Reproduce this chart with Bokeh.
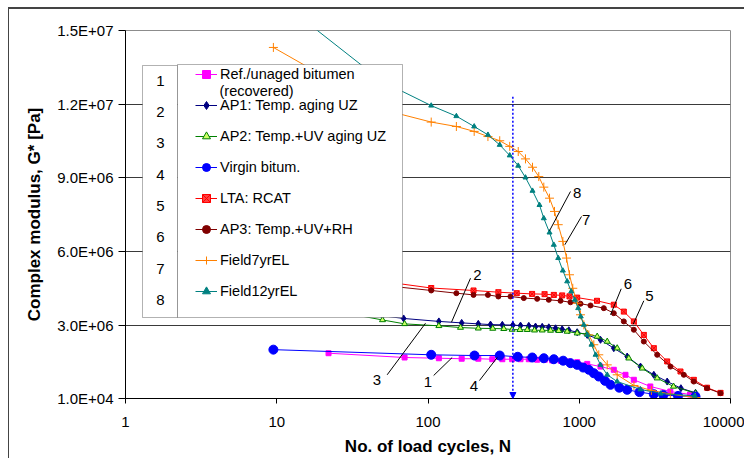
from bokeh.plotting import figure
from bokeh.models import (Range1d, FixedTicker, PrintfTickFormatter, Legend, LegendItem,
                          BoxAnnotation, Label, Arrow, NormalHead)
from bokeh.embed import file_html
from bokeh.resources import INLINE

FONT = "Liberation Sans"

# ---------------- data ----------------
ref_N = [22, 70, 118, 167, 215, 266, 310, 360, 409, 464, 527, 592, 662, 752, 853, 969, 1129,
         1382, 1692, 2022, 2296, 2950, 4000, 5400]
ref_G = [1.855e6, 1.68e6, 1.65e6, 1.63e6, 1.63e6, 1.61e6, 1.61e6, 1.61e6, 1.61e6, 1.61e6, 1.59e6,
         1.59e6, 1.56e6, 1.55e6, 1.52e6, 1.49e6, 1.42e6, 1.31e6, 1.18e6, 9.75e5, 7.72e5, 5.0e5,
         2.95e5, 1.73e5]

ap1_N = [10, 50, 69, 118, 167, 215, 259, 310, 364, 409, 464, 514, 569, 629, 697, 771, 853, 969,
         1129, 1382, 1692, 2075, 2541, 3112, 3814, 4700, 5870]
ap1_G = [4.1e6, 3.38e6, 3.27e6, 3.15e6, 3.09e6, 3.05e6, 3.02e6, 3.01e6, 3.0e6, 2.98e6, 2.97e6,
         2.94e6, 2.93e6, 2.91e6, 2.87e6, 2.83e6, 2.79e6, 2.71e6, 2.60e6, 2.40e6, 2.06e6, 1.72e6,
         1.31e6, 9.75e5, 7.0e5, 4.3e5, 2.4e5]

ap2_N = [10, 50, 70, 118, 164, 215, 268, 317, 360, 405, 453, 506, 569, 646, 732, 832, 969, 1129,
         1314, 1531, 1782, 2126, 2608, 3275, 4200, 5870]
ap2_G = [4.0e6, 3.21e6, 3.05e6, 2.97e6, 2.90e6, 2.87e6, 2.86e6, 2.85e6, 2.82e6, 2.81e6, 2.81e6,
         2.79e6, 2.79e6, 2.78e6, 2.77e6, 2.74e6, 2.67e6, 2.64e6, 2.535e6, 2.33e6, 2.06e6, 1.65e6,
         1.24e6, 8.37e5, 5.0e5, 2.26e5]

virgin_N = [9.5, 105, 203, 298, 392, 489, 583, 679, 783, 875, 969, 1062, 1157, 1248, 1346, 1480,
            1610, 1840, 2075, 2500, 3112, 3600, 4500, 5870]
virgin_G = [2.0e6, 1.79e6, 1.76e6, 1.76e6, 1.71e6, 1.68e6, 1.65e6, 1.61e6, 1.55e6, 1.45e6, 1.38e6,
            1.27e6, 1.18e6, 1.04e6, 9.06e5, 7.3e5, 5.68e5, 4.5e5, 3.64e5, 2.7e5, 1.85e5, 1.5e5,
            1.15e5, 9.1e4]

lta_N = [10, 50, 105, 200, 292, 386, 488, 590, 679, 771, 862, 969, 1310, 1692, 1971, 2296, 2673,
         3112, 3814, 4670, 5720, 7000, 8590]
lta_G = [5.0e6, 4.78e6, 4.51e6, 4.41e6, 4.34e6, 4.30e6, 4.27e6, 4.26e6, 4.23e6, 4.21e6, 4.17e6,
         4.12e6, 3.99e6, 3.83e6, 3.55e6, 3.15e6, 2.60e6, 2.06e6, 1.52e6, 1.11e6, 7.7e5, 4.5e5, 2.4e5]

ap3_N = [10, 50, 105, 154, 200, 249, 292, 351, 430, 527, 629, 752, 875, 1019, 1187, 1453, 1692,
         1971, 2296, 2673, 3275, 4011, 4912, 5720, 7000, 8590]
ap3_G = [4.85e6, 4.62e6, 4.41e6, 4.30e6, 4.23e6, 4.23e6, 4.165e6, 4.165e6, 4.10e6, 4.07e6, 4.03e6,
         3.99e6, 3.93e6, 3.87e6, 3.80e6, 3.69e6, 3.485e6, 3.15e6, 2.81e6, 2.33e6, 1.79e6, 1.31e6,
         9.75e5, 7.0e5, 4.3e5, 2.26e5]

f7_N = [9.5, 50, 105, 154, 202, 249, 298, 347, 395, 441, 491, 540, 583, 636, 686, 726, 779, 824,
        862, 906, 969, 1019, 1072, 1157, 1248, 1346, 1531, 1782, 2300, 3000, 4000, 5870]
f7_G = [1.431e7, 1.178e7, 1.127e7, 1.109e7, 1.089e7, 1.068e7, 1.051e7, 1.028e7, 1.007e7, 9.77e6,
        9.43e6, 9.05e6, 8.62e6, 8.17e6, 7.63e6, 7.09e6, 6.41e6, 5.73e6, 5.05e6, 4.50e6, 3.89e6,
        3.42e6, 3.01e6, 2.60e6, 2.20e6, 1.79e6, 1.38e6, 9.75e5, 5.4e5, 3.4e5, 1.9e5, 5e4]

f12_N = [10, 50, 105, 154, 202, 249, 298, 347, 395, 441, 491, 546, 583, 636, 679, 726, 779, 832,
         885, 935, 984, 1023, 1072, 1131, 1205, 1283, 1382, 1531, 1782, 2540, 3450, 5800]
f12_G = [1.63e7, 1.292e7, 1.194e7, 1.151e7, 1.109e7, 1.075e7, 1.034e7, 9.91e6, 9.49e6, 9.01e6,
         8.47e6, 7.89e6, 7.35e6, 6.77e6, 6.27e6, 5.73e6, 5.22e6, 4.78e6, 4.37e6, 4.03e6, 3.69e6,
         3.35e6, 3.01e6, 2.60e6, 2.20e6, 1.79e6, 1.38e6, 9.75e5, 7.0e5, 3.8e5, 2.1e5, 1.2e5]

series_names = ["Ref./unaged bitumen", "AP1: Temp. aging UZ", "AP2: Temp.+UV aging UZ",
                "Virgin bitum.", "LTA: RCAT", "AP3: Temp.+UV+RH", "Field7yrEL", "Field12yrEL"]
series_numbers = ["1", "2", "3", "4", "5", "6", "7", "8"]

x_ticks = [1, 10, 100, 1000, 10000]
y_ticks = [1e4, 3e6, 6e6, 9e6, 1.2e7, 1.5e7]
y_tick_labels = ["1.0E+04", "3.0E+06", "6.0E+06", "9.0E+06", "1.2E+07", "1.5E+07"]

# reference line (dotted arrow)
ref_cycles = 364
ref_top = 1.23e7

# curve number callouts: text position and leader line ends
callout_text = ["1", "2", "3", "4", "5", "6", "7", "8"]
callout_tx = [99.7, 212, 46, 201, 2913, 2094, 1112, 969]
callout_ty = [7.02e5, 5.06e6, 7.72e5, 4.99e5, 4.165e6, 4.666e6, 7.289e6, 8.373e6]
lead_x0 = [109, 191, 53.7, 219, 2672, 1894, 1035, 875]
lead_y0 = [9.47e5, 4.91e6, 9.75e5, 7.43e5, 3.99e6, 4.479e6, 7.424e6, 8.442e6]
lead_x1 = [144.5, 143, 96.3, 286.8, 2274, 1610, 802.8, 635.6]
lead_y1 = [1.68e6, 3.118e6, 3.077e6, 1.68e6, 3.036e6, 3.419e6, 6.271e6, 6.841e6]

# ---------------- figure ----------------
p = figure(width=736, height=451, x_axis_type="log",
           x_range=Range1d(1, 10000), y_range=Range1d(1e4, 1.5e7),
           output_backend="svg", toolbar_location=None,
           min_border_left=116, min_border_right=15, min_border_top=21, min_border_bottom=62)
p.styles = {"margin-left": "8px", "margin-top": "7px",
            "border-left": "1px solid #444444", "border-top": "2px solid #444444"}
p.outline_line_color = "#8c8c8c"
p.outline_line_width = 1
p.background_fill_color = "white"
p.border_fill_color = "white"

p.xgrid.visible = False
p.ygrid.ticker = FixedTicker(ticks=y_ticks)
p.ygrid.grid_line_color = "#3a3a3a"
p.ygrid.grid_line_width = 1

p.xaxis.ticker = FixedTicker(ticks=x_ticks)
p.xaxis.formatter = PrintfTickFormatter(format="%d")
p.yaxis.ticker = FixedTicker(ticks=y_ticks)
p.yaxis.major_label_overrides = {v: s for v, s in zip(y_ticks, y_tick_labels)}

for ax in (p.xaxis[0], p.yaxis[0]):
    ax.axis_line_color = "black"
    ax.major_tick_line_color = "black"
    ax.minor_tick_line_color = None
    ax.major_tick_in = 0
    ax.major_label_text_font = FONT
    ax.major_label_text_font_size = "15px"
    ax.major_label_text_color = "black"
    ax.axis_label_text_font = FONT
    ax.axis_label_text_font_size = "17px"
    ax.axis_label_text_font_style = "bold"
    ax.axis_label_text_color = "black"

p.xaxis.major_tick_out = 5
p.xaxis.major_label_standoff = 13
p.xaxis.axis_label = "No. of load cycles, N"
p.xaxis.axis_label_standoff = 7
p.yaxis.major_tick_out = 7
p.yaxis.major_label_standoff = 5
p.yaxis.axis_label = "Complex modulus, G* [Pa]"
p.yaxis.axis_label_standoff = 10

styles = [
    (ref_N, ref_G, "#ff00ff", "square", 5, "#ff00ff"),
    (ap1_N, ap1_G, "#000080", "diamond", 7, "#000080"),
    (ap2_N, ap2_G, "#008000", "triangle", 6, "#ccff66"),
    (virgin_N, virgin_G, "#0000ff", "circle", 9, "#0000ff"),
    (lta_N, lta_G, "#ff0000", "square_x", 5, "#ff4040"),
    (ap3_N, ap3_G, "#800000", "circle", 5, "#800000"),
    (f7_N, f7_G, "#ff8000", "cross", 9, "#ff8000"),
    (f12_N, f12_G, "#008080", "triangle", 5, "#008080"),
]

items = []
for name, (xs, ys, col, mk, sz, fc) in zip(series_names, styles):
    lr = p.line(xs, ys, line_color=col, line_width=1)
    sr = p.scatter(xs, ys, marker=mk, size=sz, line_color=col, fill_color=fc, line_width=1)
    items.append(LegendItem(label=name, renderers=[lr, sr]))

# callouts
p.segment(lead_x0, lead_y0, lead_x1, lead_y1, line_color="black", line_width=1)
for t, tx, ty in zip(callout_text, callout_tx, callout_ty):
    p.add_layout(Label(x=tx, y=ty, text=t, text_font=FONT, text_font_size="15px",
                       text_align="center", text_baseline="middle", text_color="black"))

# dotted reference arrow
p.add_layout(Arrow(x_start=ref_cycles, y_start=ref_top, x_end=ref_cycles, y_end=1e4,
                   line_color="#0000ff", line_width=1.5, line_dash="2 2",
                   end=NormalHead(size=6, fill_color="#0000ff", line_color="#0000ff")))

# legend boxes
p.add_layout(BoxAnnotation(left=17, right=52, bottom=81, top=333,
                           left_units="screen", right_units="screen",
                           bottom_units="screen", top_units="screen",
                           fill_color="white", fill_alpha=1, line_color="black", line_width=1,
                           level="annotation"))
p.add_layout(BoxAnnotation(left=52, right=277, bottom=81, top=334,
                           left_units="screen", right_units="screen",
                           bottom_units="screen", top_units="screen",
                           fill_color="white", fill_alpha=1, line_color="black", line_width=1,
                           level="annotation"))

legend = Legend(items=items, location=(70, 97), orientation="vertical",
                background_fill_alpha=0, border_line_color=None, padding=0, margin=0,
                spacing=11, label_height=20, glyph_height=20, glyph_width=22,
                label_standoff=3, label_text_font=FONT, label_text_font_size="14.5px",
                label_text_color="black")
p.add_layout(legend, "center")

p.add_layout(Label(x=94, y=308, x_units="screen", y_units="screen", text="(recovered)",
                   text_font=FONT, text_font_size="14.5px", text_baseline="middle",
                   text_color="black"))
for k, t in enumerate(series_numbers):
    p.add_layout(Label(x=35, y=397 - (79.3 + k * 31.3), x_units="screen", y_units="screen",
                       text=t, text_font=FONT, text_font_size="15px", text_align="center",
                       text_baseline="middle", text_color="black"))

open("out.html", "w").write(file_html(p, INLINE))
